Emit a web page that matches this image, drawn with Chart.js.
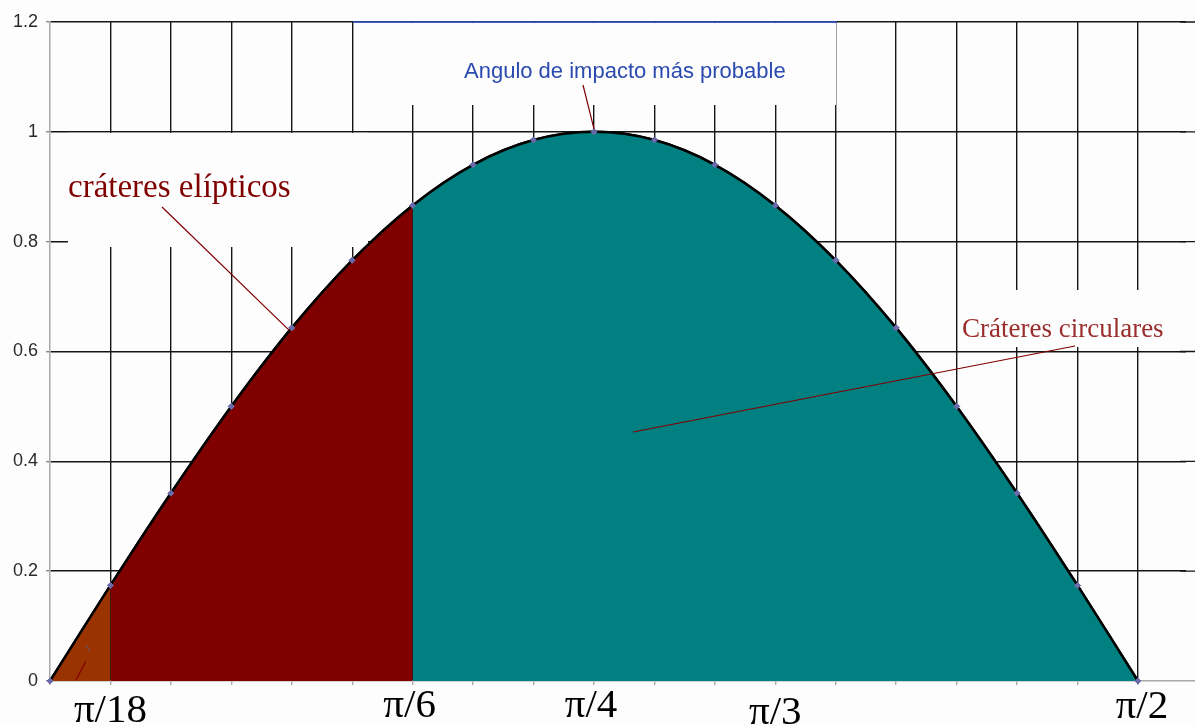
<!DOCTYPE html>
<html>
<head>
<meta charset="utf-8">
<script src="https://cdn.jsdelivr.net/npm/chart.js@4"></script>
<style>
  html, body { margin: 0; padding: 0; background: #fdfdfd; overflow: hidden; }
  #c { display: block; }
</style>
</head>
<body>
<canvas id="c" width="1195" height="726"></canvas>
<script>
// ---- data ----
const anglesDeg = [0, 5, 10, 15, 20, 25, 30, 35, 40, 45, 50, 55, 60, 65, 70, 75, 80, 85, 90];
const curveValues = [0, 0.174, 0.342, 0.5, 0.643, 0.766, 0.866, 0.94, 0.985, 1, 0.985, 0.94, 0.866, 0.766, 0.643, 0.5, 0.342, 0.174, 0];
const regionStart = [0, 5, 30];
const regionEnd = [5, 30, 90];
const regionColors = ['#993300', '#800000', '#008080'];
const xLabelAngles = [5, 30, 45, 60, 90];
const xLabelTexts = ['π/18', 'π/6', 'π/4', 'π/3', 'π/2'];
const yTickValues = [0, 0.2, 0.4, 0.6, 0.8, 1, 1.2];
const annotationTexts = ['cráteres elípticos', 'Cráteres circulares', 'Angulo de impacto más probable'];
const X_AXIS_MAX = 94.72; // visible angle range runs slightly past 90°

function pointsBetween(lo, hi) {
  const out = [];
  anglesDeg.forEach((a, i) => { if (a >= lo && a <= hi) out.push({x: a, y: curveValues[i]}); });
  return out;
}

const TENSION = 0.3;
const fillSets = regionStart.map((lo, i) => ({
  data: pointsBetween(lo, regionEnd[i]),
  backgroundColor: regionColors[i],
  borderColor: regionColors[i],
  borderWidth: 0,
  pointRadius: 0,
  fill: 'origin',
  tension: TENSION
}));
const lineSet = {
  data: pointsBetween(anglesDeg[0], anglesDeg[anglesDeg.length - 1]),
  borderColor: '#000',
  borderWidth: 2.5,
  fill: false,
  tension: TENSION,
  pointStyle: 'rectRot',
  pointRadius: 3,
  pointBackgroundColor: '#6b6bab',
  pointBorderColor: '#6b6bab',
  pointBorderWidth: 1
};

// label styling (baseline offsets below the axis, px)
const xLabelBaselineOffsets = [41, 36, 36, 43, 37];
const xLabelDx = [0, -3, -3, 0, 4];

const overlay = {
  id: 'overlay',
  afterDraw(chart) {
    const {ctx, chartArea: a, scales: {x, y}} = chart;
    ctx.save();
    // clean the right edge of the plot and restore the horizontal grid ends there
    ctx.fillStyle = '#fdfdfd';
    ctx.fillRect(1186, 0, 20, a.bottom - 1);
    ctx.fillRect(1186, a.bottom + 1, 20, 726 - a.bottom);
    ctx.strokeStyle = '#151515';
    ctx.lineWidth = 1.4;
    ctx.beginPath();
    yTickValues.forEach(v => {
      if (v === 0) return;
      const py = y.getPixelForValue(v);
      ctx.moveTo(1180, py); ctx.lineTo(1200, py);
    });
    ctx.stroke();

    // white label boxes that hide the grid
    ctx.fillStyle = '#fdfdfd';
    ctx.fillRect(354, a.top + 1, 836 - 354, 104 - a.top);
    ctx.fillRect(68, y.getPixelForValue(1) + 1, 368 - 68, 247 - y.getPixelForValue(1) - 1);
    ctx.fillRect(959, 290, 1195 - 959, 347 - 290);
    // blue top border of the upper label box
    ctx.strokeStyle = '#3355cc';
    ctx.lineWidth = 1.5;
    ctx.beginPath();
    ctx.moveTo(353, a.top); ctx.lineTo(837, a.top); ctx.stroke();

    // redraw the curve above the grid
    chart.getDatasetMeta(chart.data.datasets.length - 1).controller.draw();

    // leader lines
    ctx.strokeStyle = '#800000';
    ctx.lineWidth = 1.2;
    ctx.beginPath();
    ctx.moveTo(162, 207);
    ctx.lineTo(x.getPixelForValue(20) - 2, y.getPixelForValue(curveValues[4]) + 3);
    ctx.moveTo(583, 85);
    ctx.lineTo(x.getPixelForValue(45), y.getPixelForValue(1) - 3);
    ctx.moveTo(1075, 346);
    ctx.lineTo(633, 432);
    ctx.moveTo(76, 680);
    ctx.lineTo(86, 661);
    ctx.stroke();
    ctx.fillStyle = '#5555aa';
    ctx.fillRect(86, 646, 1.5, 1.5);
    ctx.fillRect(88, 649, 1.5, 1.5);

    // annotation texts
    ctx.textAlign = 'left';
    ctx.textBaseline = 'alphabetic';
    ctx.fillStyle = '#800000';
    ctx.font = '33px "Liberation Serif", "Times New Roman", serif';
    ctx.fillText(annotationTexts[0], 68, 197);
    ctx.fillStyle = '#9b2d2d';
    ctx.font = '27px "Liberation Serif", "Times New Roman", serif';
    ctx.fillText(annotationTexts[1], 962, 337);
    ctx.fillStyle = '#2a4ab0';
    ctx.font = '22px "Liberation Sans", Arial, sans-serif';
    ctx.fillText(annotationTexts[2], 464, 78);

    // x-axis labels
    ctx.fillStyle = '#000';
    ctx.textAlign = 'center';
    ctx.font = '41px "Liberation Serif", "Times New Roman", serif';
    xLabelAngles.forEach((ang, i) => {
      ctx.fillText(xLabelTexts[i], x.getPixelForValue(ang) + xLabelDx[i], a.bottom + xLabelBaselineOffsets[i]);
    });
    ctx.restore();
  }
};

const hiddenX = c => !c.tick || c.tick.value === 0 || c.tick.value > 90;

new Chart(document.getElementById('c'), {
  type: 'line',
  data: { datasets: [...fillSets, lineSet] },
  plugins: [overlay],
  options: {
    responsive: false,
    animation: false,
    devicePixelRatio: 1,
    layout: { autoPadding: false, padding: { top: 22, right: 0, left: 0, bottom: 0 } },
    plugins: { legend: { display: false }, tooltip: { enabled: false } },
    scales: {
      x: {
        type: 'linear',
        min: 0, max: X_AXIS_MAX,
        z: 1,
        afterFit(s) { s.height = 45; },
        afterBuildTicks(s) { s.ticks = anglesDeg.map(v => ({value: v})); },
        ticks: { display: false },
        border: { color: '#a8a8a8', width: 1.5 },
        grid: {
          color: c => hiddenX(c) ? 'rgba(0,0,0,0)' : '#151515',
          lineWidth: 1.4,
          tickLength: 4,
          tickColor: '#a8a8a8'
        }
      },
      y: {
        min: 0, max: 1.2,
        z: 1,
        afterFit(s) { s.width = 50; },
        afterBuildTicks(s) { s.ticks = yTickValues.map(v => ({value: v})); },
        ticks: {
          padding: 8,
          color: '#2a2a2a',
          font: { family: '"Liberation Sans", Arial, sans-serif', size: 18 },
          callback: v => String(Math.round(v * 10) / 10)
        },
        border: { color: '#a8a8a8', width: 1.5 },
        grid: {
          color: c => (c.tick && c.tick.value === 0) ? 'rgba(0,0,0,0)' : '#151515',
          lineWidth: 1.4,
          tickLength: 4,
          tickColor: '#888'
        }
      }
    }
  }
});
</script>
</body>
</html>
